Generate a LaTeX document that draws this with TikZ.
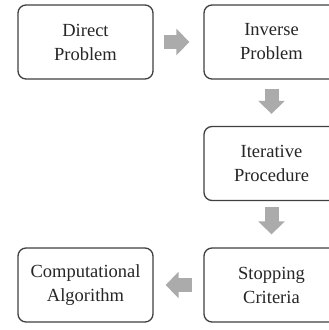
\documentclass[tikz,border=0pt]{standalone}
\usepackage{fontspec}
\setmainfont{Liberation Serif}
\usepackage{tikz}
\usetikzlibrary{arrows.meta}

\begin{document}
\begin{tikzpicture}[x=1pt,y=-1pt,
	stepbox/.style={draw=black!75,line width=1.3pt,rounded corners=8pt,fill=white,minimum width=135pt,minimum height=74pt,align=center,text=black!85,font=\fontsize{18.5}{24}\selectfont},
	flow/.style={draw=black!33,line width=14pt,-{Triangle[width=26pt,length=13pt]}}]
					\useasboundingbox (0,0) rectangle (329,330);
					\clip (0,0) rectangle (329,330);
					\node[stepbox] (dp) at (85.5,42) {Direct\\Problem};
					\node[stepbox] (ip) at (271.5,42) {Inverse\\Problem};
					\node[stepbox] (it) at (271.5,163.5) {Iterative\\Procedure};
					\node[stepbox] (sc) at (271.5,285) {Stopping\\Criteria};
					\node[stepbox] (ca) at (85.5,285) {Computational\\Algorithm};
					%\draw[flow] (dp) -- (ca);
					\draw[flow,shorten <=10pt,shorten >=14pt] (dp) -- (ip);
					\draw[flow,shorten <=9pt,shorten >=12pt] (ip) -- (it);
					\draw[flow,shorten <=6pt,shorten >=13pt] (it) -- (sc);
					\draw[flow,shorten <=11pt,shorten >=12pt] (sc) -- (ca);
				\end{tikzpicture}
\end{document}
